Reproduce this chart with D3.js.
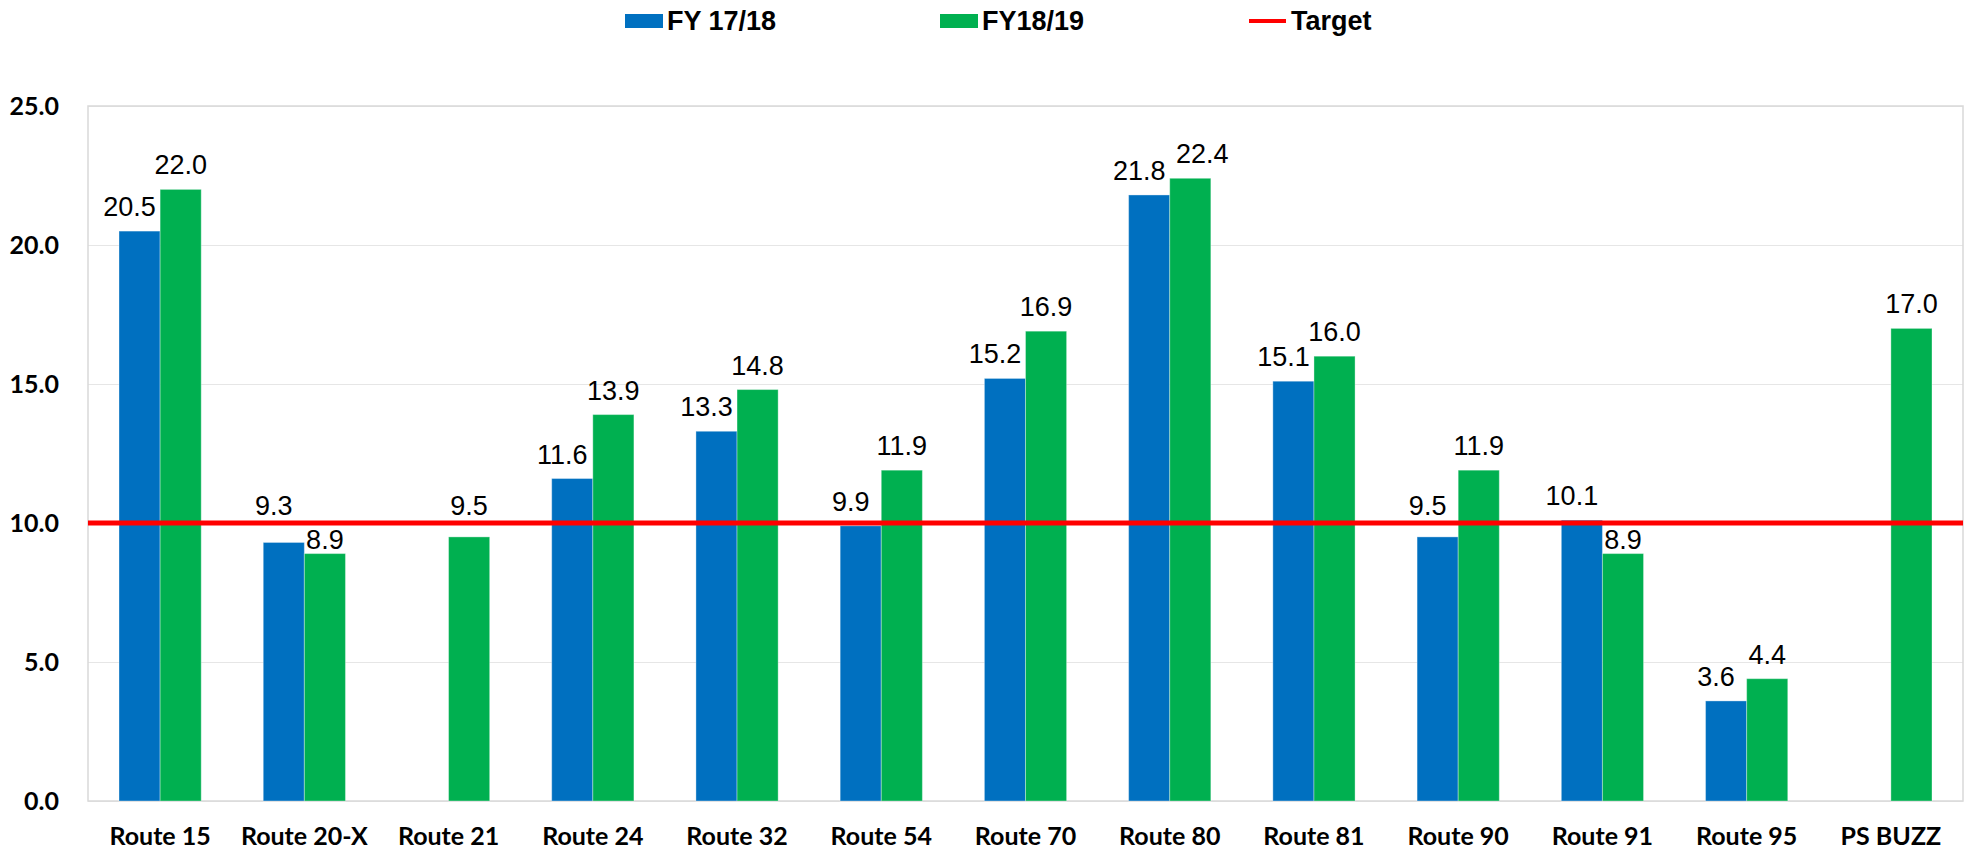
<!DOCTYPE html>
<html>
<head>
<meta charset="utf-8">
<script src="https://cdn.jsdelivr.net/npm/d3@7"></script>
<style>
  html, body { margin: 0; padding: 0; background: #fff; }
  svg { display: block; }
  .ytick text { font-family: Lato, "Open Sans", sans-serif; font-weight: 700; font-size: 25px; fill: #000; }
  .xlab { font-family: Lato, "Open Sans", sans-serif; font-weight: 700; font-size: 25px; fill: #000; }
  .val { font-family: "Liberation Sans", Arial, sans-serif; font-size: 27px; fill: #000; }
  .leg { font-family: "Liberation Sans", Arial, sans-serif; font-weight: 700; font-size: 27px; fill: #000; }
</style>
</head>
<body>
<div id="chart"></div>
<script>
const categories = ["Route 15", "Route 20-X", "Route 21", "Route 24", "Route 32", "Route 54", "Route 70", "Route 80", "Route 81", "Route 90", "Route 91", "Route 95", "PS BUZZ"];
const fy1718 = [20.5, 9.3, null, 11.6, 13.3, 9.9, 15.2, 21.8, 15.1, 9.5, 10.1, 3.6, null];
const fy1819 = [22.0, 8.9, 9.5, 13.9, 14.8, 11.9, 16.9, 22.4, 16.0, 11.9, 8.9, 4.4, 17.0];
const target = 10;
const yTicks = [0, 5, 10, 15, 20, 25];
const seriesNames = ["FY 17/18", "FY18/19"];
const colors = ["#0070C0", "#00B050"];

const W = 1974, H = 853;
const m = { top: 106, right: 11, bottom: 52, left: 88 };
const iw = W - m.left - m.right, ih = H - m.top - m.bottom;

const svg = d3.select("#chart").append("svg").attr("width", W).attr("height", H);
const g = svg.append("g").attr("transform", `translate(${m.left},${m.top})`);

const x = d3.scaleBand().domain(categories).range([0, iw]).paddingInner(0.43).paddingOuter(0.215);
const xs = d3.scaleBand().domain(seriesNames).range([0, x.bandwidth()]);
const y = d3.scaleLinear().domain([0, 25]).range([ih, 0]);

// grid
g.append("g").attr("class", "grid")
  .call(d3.axisLeft(y).tickValues(yTicks).tickSize(-iw).tickFormat(""))
  .call(s => s.select(".domain").remove())
  .call(s => s.selectAll("line").attr("stroke", "#e6e6e6").attr("stroke-width", 1.2));

// plot frame
g.append("rect").attr("x", 0).attr("y", 0).attr("width", iw).attr("height", ih)
  .attr("fill", "none").attr("stroke", "#d9d9d9").attr("stroke-width", 1.5);

// y axis labels
g.append("g").attr("class", "ytick").attr("transform", "translate(-26,0)")
  .call(d3.axisLeft(y).tickValues(yTicks).tickSize(0).tickFormat(d3.format(".1f")))
  .call(s => s.select(".domain").remove())
  .call(s => s.selectAll("text").attr("dy", "0.35em"));

// bars
const data = categories.map((c, i) => ({ c, vals: [fy1718[i], fy1819[i]] }));
const grp = g.selectAll("g.cat").data(data).join("g").attr("class", "cat")
  .attr("transform", d => `translate(${x(d.c)},0)`);
const items = grp.selectAll("g.item")
  .data(d => d.vals.map((v, k) => ({ v, k, other: d.vals[1 - k] })).filter(e => e.v != null))
  .join("g").attr("class", "item");
items.append("rect")
  .attr("x", d => xs(seriesNames[d.k]))
  .attr("y", d => y(d.v))
  .attr("width", xs.bandwidth())
  .attr("height", d => ih - y(d.v))
  .attr("fill", d => colors[d.k])
  .attr("stroke", "rgba(255,255,255,0.35)").attr("stroke-width", 1);

// label placement: above the bar, kept clear of the target line and of the neighbour label
const capH = 19, gap = 15, ty = y(target);
function labelY(v) {
  let b = y(v) - gap;
  if (b > ty - 4 && b - capH < ty + 4) {
    const up = ty - 8, down = ty + 5 + capH + 2;
    b = (down <= y(v) - 2 && down - b < b - up) ? down : up;
  }
  return b;
}
function labelDx(d) {
  if (d.k === 0) return -10;
  if (d.other != null && Math.abs(labelY(d.v) - labelY(d.other)) < capH + 2) return 12;
  return 0;
}
items.append("text").attr("class", "val")
  .attr("x", d => xs(seriesNames[d.k]) + xs.bandwidth() / 2 + labelDx(d))
  .attr("y", d => labelY(d.v))
  .attr("text-anchor", "middle")
  .text(d => d3.format(".1f")(d.v));

// target line
g.append("line").attr("x1", 0).attr("x2", iw).attr("y1", ty).attr("y2", ty)
  .attr("stroke", "#FF0000").attr("stroke-width", 5);

// x labels
g.selectAll("text.xlab").data(categories).join("text").attr("class", "xlab")
  .attr("x", d => x(d) + x.bandwidth() / 2).attr("y", ih + 44)
  .attr("text-anchor", "middle").text(d => d);

// legend
const leg = svg.append("g");
const legItems = [
  { name: "FY 17/18", type: "rect", color: colors[0], x: 625 },
  { name: "FY18/19", type: "rect", color: colors[1], x: 940 },
  { name: "Target", type: "line", color: "#FF0000", x: 1249 }
];
legItems.forEach(it => {
  if (it.type === "rect") leg.append("rect").attr("x", it.x).attr("y", 14).attr("width", 38).attr("height", 14).attr("fill", it.color);
  else leg.append("line").attr("x1", it.x).attr("x2", it.x + 37).attr("y1", 21).attr("y2", 21).attr("stroke", it.color).attr("stroke-width", 4);
  leg.append("text").attr("class", "leg").attr("x", it.x + 42).attr("y", 30).text(it.name);
});
</script>
</body>
</html>
